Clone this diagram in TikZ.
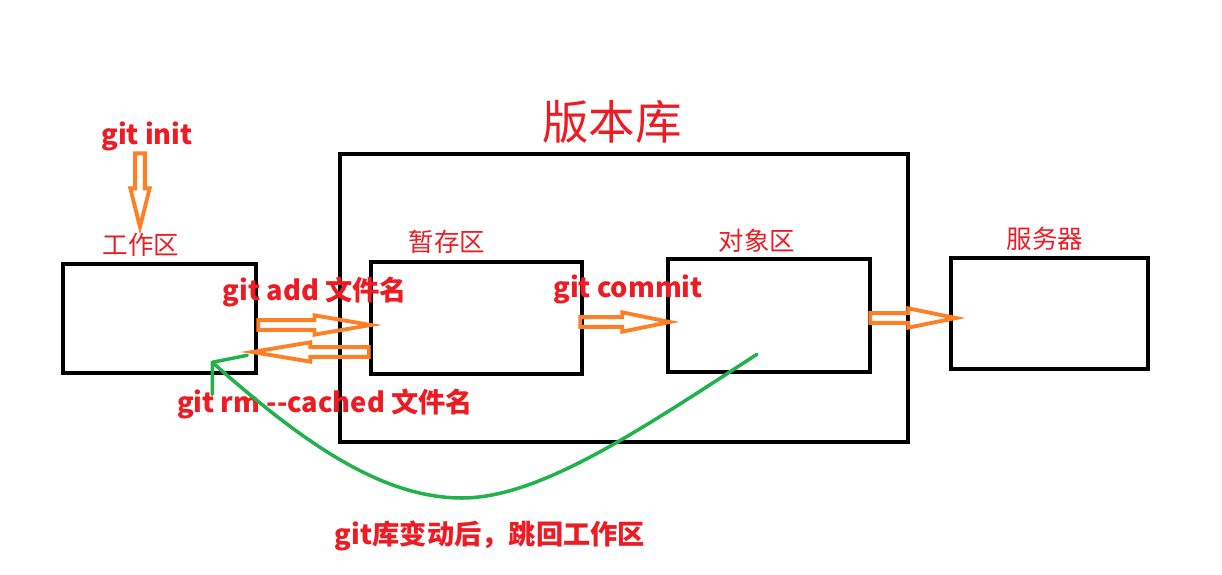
\documentclass[tikz,border=0pt]{standalone}
\usepackage{fontspec}
\setmainfont{Noto Sans CJK SC}
\usepackage{tikz}
\usetikzlibrary{calc}
\definecolor{paintred}{RGB}{237,28,36}
\definecolor{paintorange}{RGB}{255,127,39}
\definecolor{paintgreen}{RGB}{34,177,76}

\tikzset{
  area/.style={draw=black, line width=2.6pt, inner sep=0pt},
  arealabel/.style={text=paintred, inner sep=0pt, font=\fontsize{14.5}{16}\selectfont},
  cmdlabel/.style={text=paintred, inner sep=0pt, font=\bfseries\fontsize{15.5}{17}\selectfont},
  backpath/.style={draw=paintgreen, line width=2pt, line cap=round, line join=round},
  hollowarrow/.style={draw=paintorange, line width=2.2pt, line join=miter,
    to path={let \p1=(\tikztostart), \p2=(\tikztotarget),
      \n1={atan2(\y2-\y1,\x2-\x1)}, \n2={veclen(\x2-\x1,\y2-\y1)} in
      {[shift={(\p1)}, rotate=\n1]
        (0pt,-2.8pt) -- ({\n2*1pt-#1},-2.8pt) -- ({\n2*1pt-#1},-5.5pt)
        -- ({\n2*1pt},0pt) -- ({\n2*1pt-#1},5.5pt) -- ({\n2*1pt-#1},2.8pt)
        -- (0pt,2.8pt) -- cycle}}},
  hollowarrow/.default=27pt
}

\begin{document}
\begin{tikzpicture}
  \useasboundingbox (0,0) rectangle (24.44,11.48);

  % areas
  \node[area, minimum width=11.36cm, minimum height=5.76cm] (repo) at (12.48,5.52) {};
  \node[area, minimum width=3.86cm, minimum height=2.18cm] (ws) at (3.19,5.11) {};
  \node[area, minimum width=4.22cm, minimum height=2.24cm] (stage) at (9.53,5.12) {};
  \node[area, minimum width=4.04cm, minimum height=2.26cm] (obj) at (15.38,5.17) {};
  \node[area, minimum width=3.94cm, minimum height=2.22cm] (server) at (20.99,5.21) {};

  % titles
  \node[text=paintred, font=\fontsize{26.5}{28}\selectfont] (repolabel) at (12.24,9.04) {版本库};
  \node[arealabel] (wslabel) at (2.82,6.58) {工作区};
  \node[arealabel] (stagelabel) at (8.94,6.64) {暂存区};
  \node[arealabel] (objlabel) at (15.14,6.66) {对象区};
  \node[arealabel] (serverlabel) at (20.90,6.70) {服务器};

  % commands
  \node[cmdlabel] (initcmd) at (2.94,8.76) {git init};
  \node[cmdlabel] (addcmd) at (6.30,5.64) {git add 文件名};
  \node[cmdlabel] (commitcmd) at (12.56,5.70) {git commit};
  \node[cmdlabel] (rmcmd) at (6.50,3.40) {git rm -{}-cached 文件名};
  \node[cmdlabel] (backcmd) at (9.80,0.76) {git库变动后，跳回工作区};

  % orange block arrows
  \draw[hollowarrow=22pt] ([xshift=-0.14cm,yshift=-0.05cm]initcmd.south) to ([xshift=-0.02cm,yshift=0.12cm]wslabel.north);
  \draw[hollowarrow=32pt] ([yshift=-0.13cm]ws.east) to ([xshift=0.04cm,yshift=-0.14cm]stage.west);
  \draw[hollowarrow=33pt] ([yshift=-0.68cm]stage.west) to ([xshift=-0.12cm,yshift=-0.67cm]ws.east);
  \draw[hollowarrow] ([xshift=-0.08cm,yshift=-0.08cm]stage.east) to ([xshift=0.08cm,yshift=-0.13cm]obj.west);
  \draw[hollowarrow] ([xshift=-0.04cm,yshift=-0.05cm]obj.east) to ([xshift=0.14cm,yshift=-0.09cm]server.west);

  % green way back
  \coordinate (backtip) at ([xshift=-0.92cm,yshift=0.26cm]ws.south east);
  \draw[backpath] ([xshift=-0.24cm,yshift=0.4cm]obj.south) .. controls (12.8,2.88) and (10.8,1.52) .. (9.24,1.52)
    .. controls (7.6,1.52) and (6.0,2.68) .. (backtip);
  \draw[backpath] ([xshift=0.7cm,yshift=0.14cm]backtip) -- (backtip) -- ([yshift=-0.64cm]backtip);
\end{tikzpicture}
\end{document}
